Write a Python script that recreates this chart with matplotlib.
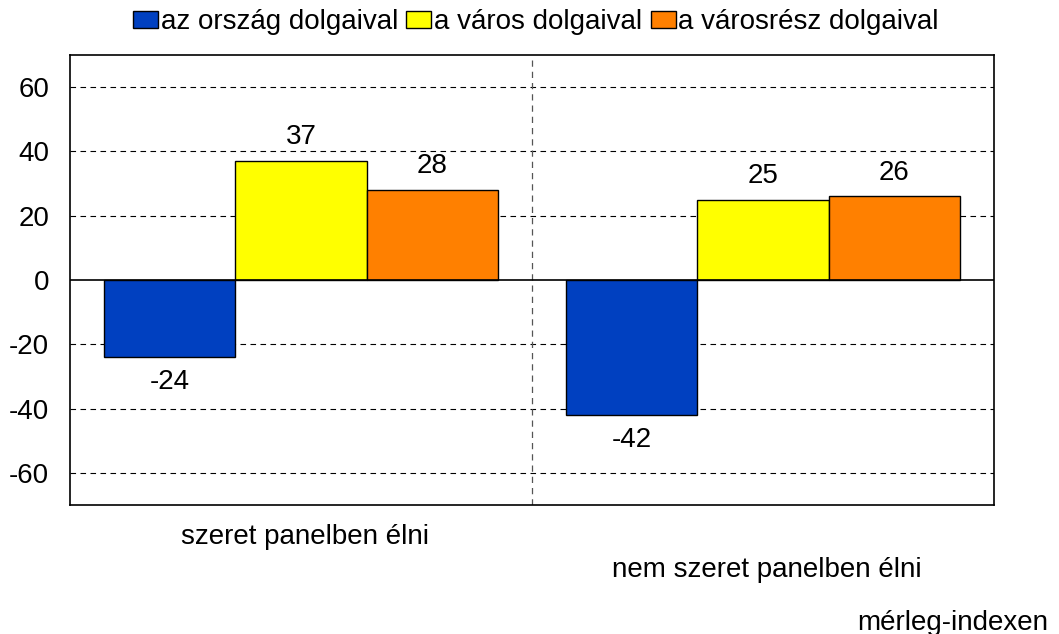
import matplotlib
matplotlib.use("Agg")
import matplotlib.pyplot as plt
import numpy as np

categories = ["szeret panelben élni", "nem szeret panelben élni"]
series_names = ["az ország dolgaival", "a város dolgaival", "a városrész dolgaival"]
orszag = [-24, -42]
varos = [37, 25]
varosresz = [28, 26]
yticks = [-60, -40, -20, 0, 20, 40, 60]
footnote = "mérleg-indexen"

colors = ["#0040C0", "#FFFF00", "#FF8000"]

plt.rcParams['font.family'] = ['Liberation Sans', 'DejaVu Sans']
FS = 20

fig = plt.figure(figsize=(10.59, 6.34), dpi=100)
ax = fig.add_axes([70/1059, 1-505/634, 924/1059, 450/634])

x = np.arange(len(categories))
w = 0.2836
series = [orszag, varos, varosresz]
for i, (vals, name, c) in enumerate(zip(series, series_names, colors)):
    bars = ax.bar(x + (i-1)*w, vals, w, color=c, edgecolor='black', linewidth=1.0,
                  label=name, zorder=3)
    for b, v in zip(bars, vals):
        off = 17 if v >= 0 else -18
        ax.annotate(f"{v}", (b.get_x()+b.get_width()/2, v), xytext=(0, off),
                    textcoords='offset points', ha='center', va='center', fontsize=FS)

ax.set_xlim(-0.5, 1.5)
ax.set_ylim(-70, 70)
ax.set_yticks(yticks)
ax.set_yticklabels([str(t) for t in yticks], fontsize=FS)
ax.tick_params(axis='y', length=0, pad=15)
ax.set_xticks([])
for t in yticks:
    if t != 0:
        ax.axhline(t, color='black', linestyle=(0, (5, 4)), linewidth=0.8, zorder=1)
ax.axhline(0, color='black', linewidth=1.2, zorder=4)
ax.axvline(0.5, color='#555555', linestyle=(0, (5, 4)), linewidth=0.9, zorder=1)
for s in ax.spines.values():
    s.set_linewidth(1.2)

offsets = [-23, -47]
for xi, cat, off in zip(x, categories, offsets):
    ax.annotate(cat, (xi, 0), xycoords=('data', 'axes fraction'), xytext=(3, off),
                textcoords='offset points', ha='center', va='center', fontsize=FS)

fig.text(1048/1059, 1-623/634, footnote, ha='right', va='center', fontsize=FS)

fig.legend(loc='center', bbox_to_anchor=(0.506, 1-22/634), ncol=3, frameon=False,
           fontsize=FS, handlelength=0.9, handleheight=0.58, handletextpad=0.1,
           columnspacing=0.3, borderpad=0)

fig.savefig("out.png", dpi=100)
